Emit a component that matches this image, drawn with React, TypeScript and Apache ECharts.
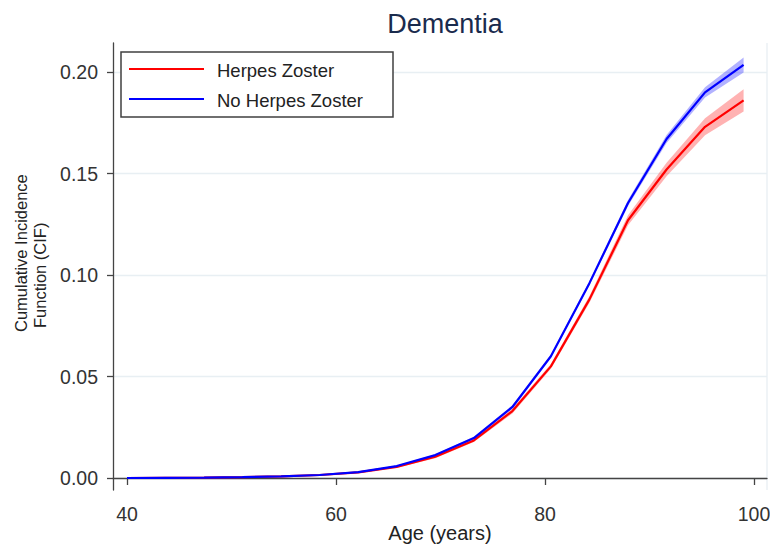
import React, { useEffect, useRef } from "react";
import * as echarts from "echarts";

const ages = [40, 43.69, 47.38, 51.06, 54.75, 58.44, 62.13, 65.81, 69.5, 73.19, 76.88, 80.56, 84.25, 87.94, 91.63, 95.31, 99];
const hzCif = [0, 0.0001, 0.0002, 0.0004, 0.0008, 0.0015, 0.0028, 0.0055, 0.0105, 0.0185, 0.033, 0.055, 0.088, 0.127, 0.152, 0.173, 0.186];
const hzLo = [0, 0.0001, 0.0002, 0.0004, 0.0007, 0.0013, 0.0025, 0.005, 0.0098, 0.0177, 0.0318, 0.0538, 0.0863, 0.1245, 0.1487, 0.1688, 0.1805];
const hzHi = [0, 0.0001, 0.0002, 0.0004, 0.0009, 0.0017, 0.0031, 0.006, 0.0112, 0.0193, 0.0342, 0.0562, 0.0897, 0.1295, 0.1553, 0.1772, 0.1915];
const noCif = [0, 0.0001, 0.0002, 0.0004, 0.0008, 0.0015, 0.0029, 0.0059, 0.0113, 0.0197, 0.035, 0.06, 0.096, 0.1355, 0.167, 0.19, 0.2035];
const noLo = [0, 0.0001, 0.0002, 0.0004, 0.0007, 0.0014, 0.0027, 0.0056, 0.0109, 0.0191, 0.0342, 0.0592, 0.095, 0.134, 0.165, 0.1875, 0.1998];
const noHi = [0, 0.0001, 0.0002, 0.0004, 0.0009, 0.0016, 0.0031, 0.0062, 0.0117, 0.0203, 0.0358, 0.0608, 0.097, 0.137, 0.169, 0.1925, 0.2072];
const xTicks = [40, 60, 80, 100];
const yTicks = [0, 0.05, 0.1, 0.15, 0.2];
const legendNames = ["Herpes Zoster", "No Herpes Zoster"];
const yTitleLines = ["Cumulative Incidence", "Function (CIF)"];

const FONT = "'Liberation Sans', Arial, sans-serif";
const RED = "#ff0000";
const BLUE = "#0000ff";

function pairs(ys: number[]) {
  return ages.map((a, i) => [a, ys[i]]);
}

export default function App() {
  const ref = useRef<HTMLDivElement>(null);
  useEffect(() => {
    const chart = echarts.init(ref.current!, null, { renderer: "svg" });
    const band = (name: string, lo: number[], hi: number[], color: string) => ({
      name,
      type: "custom",
      silent: true,
      data: ages.map((a, i) => [a, lo[i], hi[i]]),
      encode: { x: 0, y: [1, 2] },
      renderItem: (params: any, api: any) => {
        if (params.dataIndex !== 0) return null;
        const upper = ages.map((a, i) => api.coord([a, hi[i]]));
        const lower = ages.map((a, i) => api.coord([a, lo[i]])).reverse();
        return {
          type: "polygon",
          shape: { points: upper.concat(lower) },
          style: { fill: color },
        };
      },
    });
    chart.setOption({
      animation: false,
      title: {
        text: "Dementia",
        left: 440,
        textAlign: "center",
        top: 5,
        textStyle: { fontFamily: FONT, fontSize: 27, fontWeight: "normal", color: "#1a2b4d" },
      },
      grid: { left: 113, right: 3, top: 43, bottom: 56, outerBoundsMode: "none", containLabel: false },
      xAxis: {
        type: "value",
        min: 38.66,
        max: 101.24,
        name: "Age (years)",
        nameLocation: "middle",
        nameGap: 33,
        nameMoveOverlap: false,
        nameTextStyle: { fontFamily: FONT, fontSize: 20, color: "#222" },
        axisLine: { lineStyle: { color: "#444", width: 1.3 } },
        axisTick: { show: true, length: 7, customValues: xTicks, lineStyle: { color: "#444", width: 1.3 } },
        axisLabel: { customValues: xTicks, margin: 14, fontFamily: FONT, fontSize: 19.5, color: "#333", formatter: (v: number) => String(Math.round(v)) },
        splitLine: { show: false },
      },
      yAxis: {
        type: "value",
        min: -0.0059,
        max: 0.2143,
        axisLine: { show: true, lineStyle: { color: "#444", width: 1.3 } },
        axisTick: { show: true, length: 6, customValues: yTicks, lineStyle: { color: "#444", width: 1.3 } },
        axisLabel: { customValues: yTicks, margin: 15, fontFamily: FONT, fontSize: 19.5, color: "#333", formatter: (v: number) => v.toFixed(2) },
        splitLine: { show: true, lineStyle: { color: "#e8eff3", width: 1.3 } },
      },
      series: [
        band("hz-band", hzLo, hzHi, "rgba(255,0,0,0.3)"),
        band("no-band", noLo, noHi, "rgba(0,0,255,0.3)"),
        {
          name: legendNames[0],
          type: "line",
          data: pairs(hzCif),
          symbol: "none",
          lineStyle: { color: RED, width: 2.2 },
        },
        {
          name: legendNames[1],
          type: "line",
          data: pairs(noCif),
          symbol: "none",
          lineStyle: { color: BLUE, width: 2.2 },
        },
      ],
      graphic: [
        { type: "line", shape: { x1: 767, y1: 43, x2: 767, y2: 490 }, style: { stroke: "#e8eff3", lineWidth: 1.3 }, silent: true },
        { type: "text", x: 21, y: 332, rotation: Math.PI / 2, style: { text: yTitleLines[0], fontFamily: FONT, fontSize: 16.5, fill: "#222", textAlign: "left", textVerticalAlign: "middle" } },
        { type: "text", x: 40, y: 328, rotation: Math.PI / 2, style: { text: yTitleLines[1], fontFamily: FONT, fontSize: 16.5, fill: "#222", textAlign: "left", textVerticalAlign: "middle" } },
        { type: "rect", shape: { x: 121, y: 52, width: 272, height: 65 }, style: { fill: "#fff", stroke: "#404040", lineWidth: 1.5 }, z: 100 },
        { type: "line", shape: { x1: 129, y1: 69, x2: 204, y2: 69 }, style: { stroke: RED, lineWidth: 2.2 }, z: 101 },
        { type: "line", shape: { x1: 129, y1: 99, x2: 204, y2: 99 }, style: { stroke: BLUE, lineWidth: 2.2 }, z: 101 },
        { type: "text", x: 217, y: 70, style: { text: legendNames[0], fontFamily: FONT, fontSize: 18.5, fill: "#222", textVerticalAlign: "middle" }, z: 101 },
        { type: "text", x: 217, y: 100, style: { text: legendNames[1], fontFamily: FONT, fontSize: 18.5, fill: "#222", textVerticalAlign: "middle" }, z: 101 },
      ],
    });
    return () => chart.dispose();
  }, []);
  return <div ref={ref} style={{ width: 770, height: 546, position: "absolute", left: 0, top: 0 }} />;
}
